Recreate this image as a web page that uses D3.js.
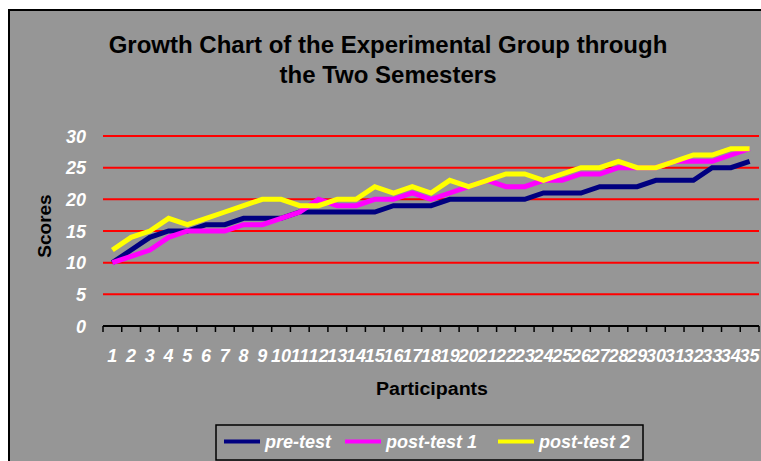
<!DOCTYPE html>
<html><head><meta charset="utf-8">
<script src="https://cdn.jsdelivr.net/npm/d3@7"></script>
<style>html,body{margin:0;padding:0;background:#fff;overflow:hidden}</style>
</head><body><svg id="c" width="761" height="461"></svg>
<script>
const categories = ["1","2","3","4","5","6","7","8","9","10","11","12","13","14","15","16","17","18","19","20","21","22","23","24","25","26","27","28","29","30","31","32","33","34","35"];
const preTest   = [10,12,14,15,15,16,16,17,17,17,18,18,18,18,18,19,19,19,20,20,20,20,20,21,21,21,22,22,22,23,23,23,25,25,26];
const postTest1 = [10,11,12,14,15,15,15,16,16,17,18,20,19,19,20,20,21,20,21,22,23,22,22,23,23,24,24,25,25,25,26,26,26,27,28];
const postTest2 = [12,14,15,17,16,17,18,19,20,20,19,19,20,20,22,21,22,21,23,22,23,24,24,23,24,25,25,26,25,25,26,27,27,28,28];
const yTicks = [0,5,10,15,20,25,30];
const seriesNames = ["pre-test","post-test 1","post-test 2"];
const seriesColors = ["#000080","#FF00FF","#FFFF00"];
const titleLines = ["Growth Chart of the Experimental Group through","the Two Semesters"];
const xTitle = "Participants";
const yTitle = "Scores";

const series = [preTest, postTest1, postTest2];
const font = "'Liberation Sans', Arial, sans-serif";
const svg = d3.select("#c");

svg.append("rect").attr("x",9).attr("y",10).attr("width",800).attr("height",500)
  .attr("fill","#969696").attr("stroke","#000").attr("stroke-width",2);

const x = d3.scaleBand().domain(categories).range([103,759]);
const y = d3.scaleLinear().domain([0,30]).range([326,136]);
const bw = x.bandwidth();

// gridlines
svg.append("g").selectAll("line").data(yTicks.filter(d=>d>0)).join("line")
  .attr("x1",103).attr("x2",759).attr("y1",d=>y(d)).attr("y2",d=>y(d))
  .attr("stroke","#FF0000").attr("stroke-width",2);

// y labels
svg.append("g").selectAll("text").data(yTicks).join("text")
  .attr("x",86).attr("y",d=>y(d)+6.5).attr("text-anchor","end")
  .attr("font-family",font).attr("font-weight","bold").attr("font-style","italic")
  .attr("font-size",18).attr("fill","#fff").text(d=>d);

// x axis
const ax = svg.append("g");
ax.append("line").attr("x1",103).attr("x2",759).attr("y1",y(0)).attr("y2",y(0))
  .attr("stroke","#000").attr("stroke-width",2);
const tickPos = categories.map(c=>x(c)).concat([x.range()[1]]);
ax.selectAll("line.t").data(tickPos).join("line").attr("class","t")
  .attr("x1",d=>d).attr("x2",d=>d).attr("y1",y(0)).attr("y2",y(0)+6)
  .attr("stroke","#000").attr("stroke-width",1.5);
ax.selectAll("text").data(categories).join("text")
  .attr("x",d=>x(d)+bw/2).attr("y",362).attr("text-anchor","middle")
  .attr("font-family",font).attr("font-weight","bold").attr("font-style","italic")
  .attr("font-size",18).attr("fill","#fff").text(d=>d);

// lines
const line = d3.line().x((d,i)=>x(categories[i])+bw/2).y(d=>y(d));
svg.append("g").selectAll("path").data(series).join("path")
  .attr("d",d=>line(d)).attr("fill","none")
  .attr("stroke",(d,i)=>seriesColors[i]).attr("stroke-width",5)
  .attr("stroke-linejoin","miter");

// titles
svg.append("g").selectAll("text").data(titleLines).join("text")
  .attr("x",388).attr("y",(d,i)=>53+i*29.5).attr("text-anchor","middle")
  .attr("font-family",font).attr("font-weight","bold").attr("font-size",24)
  .attr("fill","#000").text(d=>d);

svg.append("text").attr("x",432).attr("y",395).attr("text-anchor","middle")
  .attr("font-family",font).attr("font-weight","bold").attr("font-size",18)
  .attr("textLength",112).attr("lengthAdjust","spacingAndGlyphs")
  .attr("fill","#000").text(xTitle);

svg.append("text").attr("transform","translate(51,226) rotate(-90)").attr("text-anchor","middle")
  .attr("font-family",font).attr("font-weight","bold").attr("font-size",19)
  .attr("fill","#000").text(yTitle);

// legend
const lg = svg.append("g");
lg.append("rect").attr("x",216).attr("y",425).attr("width",427).attr("height",35)
  .attr("fill","#969696").attr("stroke","#000").attr("stroke-width",1.5);
const lgX = [224,345,498];
seriesNames.forEach((n,i)=>{
  lg.append("line").attr("x1",lgX[i]).attr("x2",lgX[i]+36).attr("y1",441.5).attr("y2",441.5)
    .attr("stroke",seriesColors[i]).attr("stroke-width",4);
  lg.append("text").attr("x",lgX[i]+41).attr("y",447.5)
    .attr("font-family",font).attr("font-weight","bold").attr("font-style","italic")
    .attr("font-size",18).attr("fill","#fff").text(n);
});
</script></body></html>
